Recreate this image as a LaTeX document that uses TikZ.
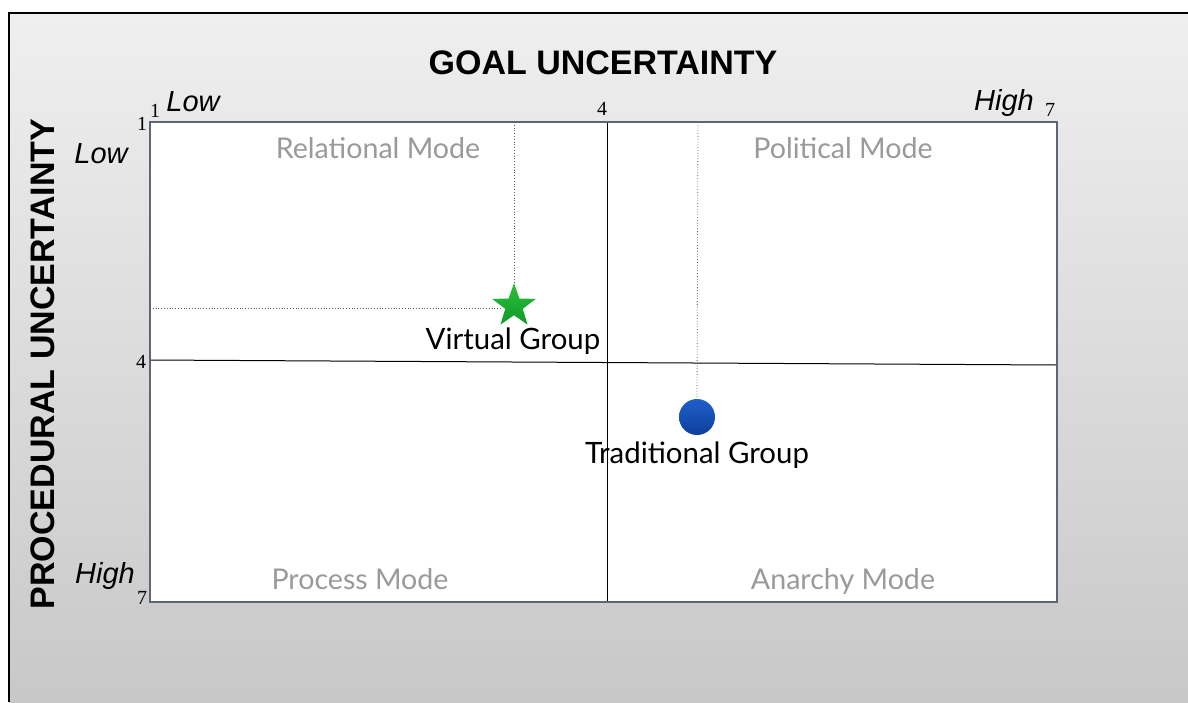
\documentclass[tikz,border=0pt]{standalone}
\usepackage{fontspec}
\setmainfont{Liberation Sans}
\newfontfamily\gillfont{Lato}
\newfontfamily\numfont{Liberation Serif}
\usepackage{tikz}
\usetikzlibrary{shapes.geometric,positioning}
\usepackage{xcolor}
\definecolor{panelTop}{HTML}{EFEFEF}
\definecolor{panelBottom}{HTML}{C8C8C8}
\definecolor{boxEdge}{HTML}{5D6675}
\definecolor{modeGray}{HTML}{9A9A9A}
\definecolor{starTop}{HTML}{2DBF3C}
\definecolor{starBottom}{HTML}{0E9A28}
\definecolor{dotTop}{HTML}{1F5FC8}
\definecolor{dotBottom}{HTML}{0D3F9E}
\tikzset{
	axis title/.style={font=\fontsize{17}{20}\selectfont\bfseries},
	level/.style={font=\fontsize{14.5}{17}\selectfont\itshape},
	tick/.style={font=\fontsize{10}{11}\numfont},
	mode/.style={font=\fontsize{14.3}{17}\gillfont, text=modeGray, text height=1.5ex, text depth=0.4ex},
	group/.style={font=\fontsize{14.7}{17}\gillfont, text=black, text height=1.5ex, text depth=0.4ex}
}
\tikzstyle{guide}=[densely dotted, gray!70!black, line width=0.4pt]

\begin{document}
\begin{tikzpicture}[x=0.5pt, y=-0.5pt]
	\useasboundingbox (0,0) rectangle (1188,702);
	\fill[white] (0,0) rectangle (1188,702);
	\shade[top color=panelTop, bottom color=panelBottom] (9,13) rectangle (1188,702);
	\draw[line width=1.1pt] (9,702) -- (9,13) -- (1188,13);
	% quadrant box
	\draw[draw=boxEdge, fill=white, line width=0.9pt] (150,122) rectangle (1057,602);
	\draw[line width=0.5pt] (607,122) -- (607,602);
	\draw[line width=0.5pt] (150,360) -- (1057,365);
	\draw[draw=boxEdge, line width=0.9pt] (150,122) rectangle (1057,602);
	% axis titles
	\node[axis title] (goal) at (603,63) {GOAL UNCERTAINTY};
	\node[axis title, rotate=90] (proc) at (43,364) {PROCEDURAL UNCERTAINTY};
	\node[level] (goalLow) at (193,102) {Low};
	\node[level] (goalHigh) at (1004,103) {High};
	\node[level] (procLow) at (101,154) {Low};
	\node[level] (procHigh) at (105,576) {High};
	\node[tick] (g1) at (155,111) {1};
	\node[tick] (g4) at (602,109) {4};
	\node[tick] (g7) at (1050,110) {7};
	\node[tick] (p1) at (142,124) {1};
	\node[tick] (p4) at (141,362) {4};
	\node[tick] (p7) at (142,598) {7};
	% modes
	\node[mode] (relational) at (378,153) {Relational Mode};
	\node[mode] (political) at (843,153) {Political Mode};
	\node[mode] (process) at (360,584) {Process Mode};
	\node[mode] (anarchy) at (843,584) {Anarchy Mode};
	% groups
	\coordinate (virtualTop) at (514,122);
	\coordinate (virtualLeft) at (150,308);
	\coordinate (tradTop) at (698,122);
	\node[star, star points=5, star point ratio=2.5, minimum size=23pt, inner sep=0pt,
		top color=starTop, bottom color=starBottom, draw=none] (virtual) at (514,306) {};
	\node[circle, minimum size=18pt, inner sep=0pt,
		top color=dotTop, bottom color=dotBottom, draw=none] (trad) at (697,417) {};
	\draw[guide] (virtualTop) -- (virtual.north);
	\draw[guide] (virtualLeft) -- (virtual.west |- virtualLeft);
	\draw[guide] (tradTop) -- (trad.north);
	\node[group] (virtualName) at (513,344) {Virtual Group};
	\node[group] (tradName) at (697,458) {Traditional Group};
\end{tikzpicture}
\end{document}
